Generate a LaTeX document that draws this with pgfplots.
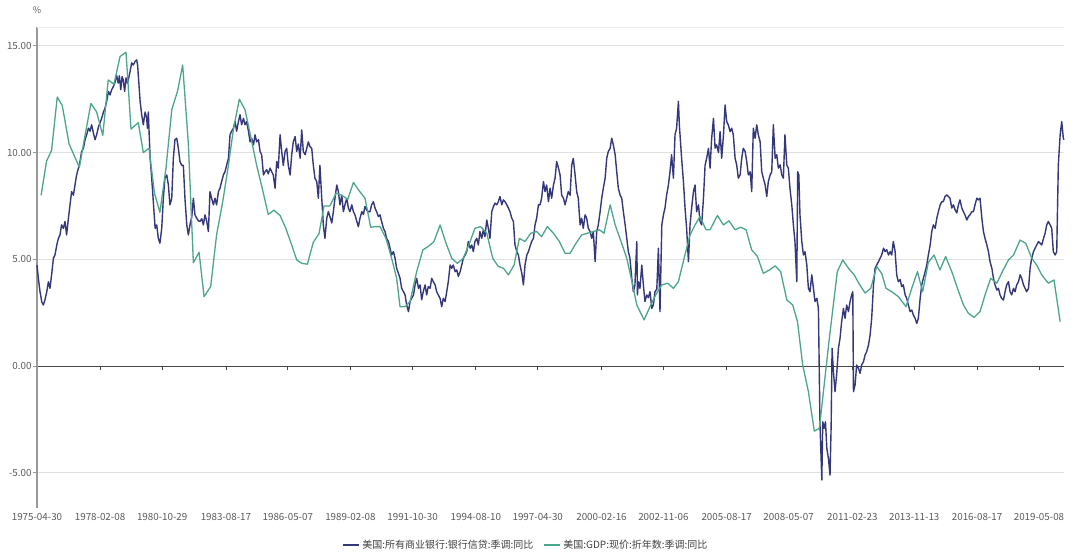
\documentclass[border=0pt]{standalone}
\usepackage{pgfplots}
\pgfplotsset{compat=1.18}
\usepackage{fontspec}
\setmainfont{Noto Sans CJK SC}
\definecolor{navy}{RGB}{52,55,122}
\definecolor{teal2}{RGB}{76,166,140}
\definecolor{lab}{RGB}{90,90,90}
\begin{document}
\begin{tikzpicture}
\path[use as bounding box] (-37bp,-50bp) rectangle (1043bp,508bp);
\begin{axis}[
  scale only axis, width=1027bp, height=481bp,
  xmin=1975.33, xmax=2020.45, ymin=-6.65, ymax=15.88,
  axis x line*=middle, axis y line*=left,
  hide obscured x ticks=false,
  x axis line style={draw=black!72, line width=0.8bp},
  y axis line style={draw=black!40, line width=1.4bp},
  tick align=outside, major tick length=4bp,
  xtick style={draw=black!72, line width=0.7bp},
  ytick style={draw=black!40, line width=0.7bp},
  xtick={1975.33,1978.10,1980.83,1983.63,1986.35,1989.10,1991.83,1994.61,1997.33,2000.13,2002.85,2005.63,2008.35,2011.15,2013.87,2016.63,2019.35},
  xticklabels={1975-04-30,1978-02-08,1980-10-29,1983-08-17,1986-05-07,1989-02-08,1991-10-30,1994-08-10,1997-04-30,2000-02-16,2002-11-06,2005-08-17,2008-05-07,2011-02-23,2013-11-13,2016-08-17,2019-05-08},
  xticklabel style={font=\fontsize{9.8bp}{11bp}\selectfont, text=lab, yshift=-140bp},
  ytick={-5,0,5,10,15},
  yticklabel style={font=\fontsize{9.8bp}{11bp}\selectfont, text=lab, xshift=2bp, /pgf/number format/.cd, fixed, fixed zerofill, precision=2, assume math mode=true},
  extra y ticks={15.88}, extra y tick labels={},
  extra y tick style={major tick length=0pt, grid style={draw=black!8, line width=0.8bp}},
  ymajorgrids, grid style={draw=black!12, line width=0.7bp},
  legend columns=2,
  legend style={at={(0.476,-0.077)}, anchor=center, draw=none, fill=none,
    font=\fontsize{10bp}{11bp}\selectfont, text=black!75,
    /tikz/every even column/.append style={column sep=8bp}},
  legend image code/.code={\draw[#1, line width=2bp] (0bp,0bp) -- (16bp,0bp);},
  clip=false,
]
\addplot[navy, line width=1.4bp, line join=round] coordinates {
(1975.33,4.73)(1975.39,4.1)(1975.46,3.5)(1975.54,3.0)(1975.61,2.86)(1975.68,3.1)(1975.76,3.48)(1975.83,3.95)(1975.90,3.64)(1975.98,4.34)
(1976.05,5.05)(1976.12,5.2)(1976.20,5.67)(1976.27,5.98)(1976.34,6.14)(1976.41,6.61)(1976.49,6.45)(1976.56,6.77)(1976.63,6.14)(1976.71,6.92)
(1976.78,7.55)(1976.85,8.17)(1976.93,8.0)(1977.00,8.48)(1977.07,8.95)(1977.15,9.27)(1977.22,9.58)(1977.29,10.05)(1977.37,10.2)(1977.44,10.6)
(1977.51,10.83)(1977.59,11.14)(1977.66,11.0)(1977.73,11.3)(1977.81,10.9)(1977.88,10.6)(1977.95,10.83)(1978.03,11.2)(1978.10,11.4)(1978.17,11.6)
(1978.25,11.9)(1978.32,12.08)(1978.39,12.4)(1978.47,12.86)(1978.54,12.7)(1978.61,12.94)(1978.69,13.1)(1978.76,13.3)(1978.83,13.6)(1978.90,13.25)
(1978.95,13.6)(1979.01,12.94)(1979.07,13.56)(1979.12,13.4)(1979.18,12.86)(1979.24,13.5)(1979.30,13.25)(1979.36,13.5)(1979.42,13.8)(1979.49,14.2)
(1979.56,14.1)(1979.64,14.27)(1979.71,14.34)(1979.75,14.1)(1979.80,13.33)(1979.86,12.4)(1979.93,11.77)(1980.00,11.3)(1980.08,11.9)(1980.15,11.6)
(1980.18,11.14)(1980.22,11.9)(1980.30,9.73)(1980.37,8.8)(1980.44,7.7)(1980.52,6.45)(1980.59,6.61)(1980.66,5.98)(1980.73,5.75)(1980.81,6.45)
(1980.88,7.86)(1980.95,8.8)(1981.03,8.95)(1981.10,8.5)(1981.17,7.55)(1981.25,7.86)(1981.32,9.73)(1981.39,10.6)(1981.47,10.67)(1981.54,10.2)
(1981.61,9.58)(1981.69,9.4)(1981.76,9.4)(1981.83,7.86)(1981.91,6.61)(1981.98,6.14)(1982.05,6.61)(1982.13,7.0)(1982.20,7.86)(1982.27,7.08)
(1982.35,6.92)(1982.42,6.8)
(1982.49,6.77)(1982.57,6.9)(1982.64,6.61)(1982.71,7.08)(1982.79,6.77)(1982.86,6.3)(1982.93,8.17)(1983.00,7.86)(1983.08,7.55)(1983.15,7.86)
(1983.22,7.55)(1983.30,8.17)(1983.37,8.33)(1983.44,8.64)(1983.52,8.95)(1983.59,9.1)(1983.66,9.4)(1983.74,9.73)(1983.81,10.83)(1983.88,11.0)
(1983.96,11.14)(1984.03,11.45)(1984.10,11.0)(1984.18,11.45)(1984.25,11.77)(1984.32,11.3)(1984.40,11.6)(1984.47,11.3)(1984.54,11.45)(1984.62,11.0)
(1984.69,10.5)(1984.76,10.67)(1984.84,10.36)(1984.91,10.83)(1984.98,10.5)(1985.06,10.6)(1985.13,10.05)(1985.20,9.9)(1985.28,8.95)(1985.35,9.1)
(1985.42,9.2)(1985.49,9.0)(1985.57,9.27)(1985.64,9.1)(1985.71,8.95)(1985.79,8.33)(1985.86,9.58)(1985.93,9.27)(1986.01,10.83)(1986.08,10.05)
(1986.15,9.4)(1986.23,10.05)(1986.30,10.2)(1986.37,9.4)(1986.45,8.95)(1986.52,9.9)(1986.59,10.5)(1986.67,10.75)(1986.74,10.05)(1986.81,10.4)
(1986.89,9.73)(1986.96,11.06)(1987.03,10.05)(1987.11,9.9)(1987.18,10.2)(1987.25,10.5)(1987.32,10.28)(1987.40,10.2)(1987.47,9.4)(1987.54,8.8)
(1987.62,8.64)(1987.69,7.86)(1987.76,9.4)(1987.84,7.86)(1987.91,6.61)(1987.98,5.98)(1988.06,6.92)(1988.13,7.23)(1988.20,7.0)(1988.28,6.7)
(1988.35,7.23)(1988.42,7.86)(1988.50,8.48)(1988.57,8.17)(1988.64,7.55)(1988.72,8.0)(1988.79,7.23)(1988.86,7.55)(1988.94,7.86)(1989.01,7.4)
(1989.08,7.23)(1989.16,7.55)(1989.23,7.23)(1989.30,7.08)(1989.38,6.77)(1989.45,6.53)(1989.52,6.92)(1989.60,7.23)(1989.67,7.1)(1989.74,7.47)
(1989.82,7.3)(1989.89,7.23)
(1989.96,7.23)(1990.03,7.55)(1990.11,7.7)(1990.18,7.4)(1990.25,7.23)(1990.33,7.0)(1990.40,7.08)(1990.47,6.77)(1990.55,6.45)(1990.62,6.3)
(1990.69,5.98)(1990.77,5.83)(1990.84,5.52)(1990.91,5.2)(1990.99,5.36)(1991.06,5.05)(1991.13,4.58)(1991.21,4.34)(1991.28,4.11)(1991.35,3.64)
(1991.43,3.48)(1991.50,3.33)(1991.57,2.86)(1991.65,2.55)(1991.72,3.02)(1991.79,3.17)(1991.87,3.33)(1991.94,3.8)(1992.01,4.11)(1992.09,3.64)
(1992.16,3.8)(1992.23,3.1)(1992.30,3.48)(1992.38,3.8)(1992.45,3.33)(1992.52,3.72)(1992.60,3.64)(1992.67,4.11)(1992.74,3.95)(1992.82,3.8)
(1992.89,3.48)(1992.96,3.33)(1993.04,3.17)(1993.11,2.78)(1993.18,3.17)(1993.26,3.02)(1993.33,3.48)(1993.40,3.95)(1993.48,4.73)(1993.55,4.58)
(1993.62,4.73)(1993.70,4.42)(1993.77,4.5)(1993.84,4.2)(1993.92,4.42)(1993.99,4.73)(1994.06,5.05)(1994.14,5.2)(1994.21,5.36)(1994.28,5.83)
(1994.36,5.52)(1994.43,5.67)(1994.50,5.36)(1994.57,5.83)(1994.65,5.98)(1994.72,5.67)(1994.79,6.3)(1994.87,5.98)(1994.94,6.38)(1995.01,6.06)
(1995.09,6.84)(1995.16,6.45)(1995.23,5.98)(1995.31,7.23)(1995.38,7.47)(1995.45,7.63)(1995.53,7.55)(1995.60,7.7)(1995.67,7.94)(1995.75,7.55)
(1995.82,7.78)(1995.89,7.7)(1995.97,7.55)(1996.04,7.4)(1996.11,7.23)(1996.19,6.92)(1996.26,6.77)(1996.33,5.67)(1996.41,5.36)(1996.48,5.2)
(1996.55,4.73)(1996.63,4.34)(1996.70,3.8)(1996.77,4.73)(1996.85,5.2)(1996.92,5.36)(1996.99,5.6)(1997.06,5.83)(1997.14,5.98)(1997.21,6.61)
(1997.28,6.92)(1997.36,7.55)
(1997.43,7.55)(1997.50,7.86)(1997.58,8.64)(1997.65,8.17)(1997.72,8.48)(1997.80,7.7)(1997.87,8.33)(1997.94,7.86)(1998.02,8.48)(1998.09,8.8)
(1998.16,9.58)(1998.24,9.27)(1998.31,8.95)(1998.38,8.0)(1998.46,7.86)(1998.53,7.55)(1998.60,7.86)(1998.67,8.17)(1998.75,8.0)(1998.82,9.4)
(1998.89,9.73)(1998.97,8.95)(1999.04,8.17)(1999.11,7.86)(1999.19,6.61)(1999.26,6.92)(1999.33,6.45)(1999.41,7.08)(1999.48,6.92)(1999.55,6.45)
(1999.63,6.3)(1999.70,5.98)(1999.77,6.3)(1999.85,4.89)(1999.92,6.3)(1999.99,6.61)(2000.07,7.23)(2000.14,7.86)(2000.21,8.33)(2000.29,8.8)
(2000.36,9.73)(2000.43,10.05)(2000.51,10.2)(2000.58,10.67)(2000.65,10.36)(2000.73,9.9)(2000.80,9.1)(2000.87,8.33)(2000.95,8.0)(2001.02,7.86)
(2001.09,7.23)(2001.17,6.61)(2001.24,5.98)(2001.31,5.36)(2001.38,5.05)(2001.46,4.11)(2001.53,3.48)(2001.60,3.8)(2001.68,5.83)(2001.71,3.33)
(2001.75,3.95)(2001.82,3.64)(2001.90,4.73)(2001.97,3.8)(2002.04,3.02)(2002.12,3.33)(2002.19,3.2)(2002.26,3.48)(2002.34,2.7)(2002.41,2.86)
(2002.48,3.48)(2002.56,3.6)(2002.63,5.52)(2002.70,2.55)(2002.78,6.61)(2002.85,7.08)(2002.92,7.4)(2002.99,8.0)(2003.07,8.48)(2003.14,9.1)
(2003.21,9.9)(2003.29,8.8)(2003.36,10.83)(2003.43,11.14)(2003.51,12.4)(2003.55,11.3)(2003.61,10.36)(2003.65,9.73)(2003.73,8.64)(2003.80,7.4)
(2003.87,6.45)(2003.95,4.89)(2004.02,6.61)(2004.09,7.4)(2004.17,8.17)(2004.24,8.48)(2004.31,7.23)(2004.39,7.55)(2004.46,6.77)(2004.53,6.61)
(2004.61,7.86)(2004.68,9.4)(2004.75,9.73)(2004.83,10.2)
(2004.90,9.27)(2004.97,10.67)(2005.05,11.6)(2005.12,10.2)(2005.19,10.36)(2005.27,10.0)(2005.34,10.98)(2005.41,9.73)(2005.49,10.83)(2005.56,12.23)
(2005.63,11.45)(2005.70,11.3)(2005.78,10.98)(2005.85,11.14)(2005.92,10.83)(2006.00,9.73)(2006.07,9.42)(2006.14,8.8)(2006.22,8.95)(2006.29,9.73)
(2006.36,10.2)(2006.44,10.05)(2006.51,9.58)(2006.58,8.95)(2006.66,9.1)(2006.73,8.17)(2006.80,11.14)(2006.88,10.67)(2006.95,11.3)(2007.02,10.83)
(2007.10,10.5)(2007.17,9.1)(2007.24,8.8)(2007.32,8.48)(2007.39,7.94)(2007.46,8.64)(2007.54,8.95)(2007.61,9.1)(2007.68,11.3)(2007.76,9.73)
(2007.83,9.9)(2007.90,9.27)(2007.98,9.42)(2008.05,8.95)(2008.12,8.8)(2008.19,10.83)(2008.27,9.42)(2008.34,9.27)(2008.41,8.33)(2008.49,7.55)
(2008.56,6.61)(2008.63,5.83)(2008.71,3.95)(2008.75,9.1)(2008.80,8.95)(2008.85,7.08)(2008.93,5.83)(2009.00,5.2)(2009.07,5.36)(2009.15,4.73)
(2009.22,3.64)(2009.29,3.48)(2009.37,4.27)(2009.44,3.64)(2009.51,3.02)(2009.59,3.17)(2009.66,2.7)(2009.73,-2.77)(2009.81,-5.34)(2009.85,-2.61)
(2009.91,-2.92)(2009.97,-2.61)(2010.03,-3.86)(2010.10,-4.33)(2010.17,-5.11)(2010.22,-2.77)(2010.26,0.83)(2010.32,-0.27)(2010.39,-1.2)(2010.46,-0.42)
(2010.54,0.83)(2010.61,1.3)(2010.68,2.08)(2010.76,2.7)(2010.83,2.23)(2010.90,2.86)(2010.98,2.55)(2011.05,3.02)(2011.12,3.33)(2011.17,3.48)
(2011.20,-1.2)(2011.27,-0.89)(2011.34,0.05)(2011.42,-0.11)(2011.49,-0.34)(2011.56,0.05)(2011.64,0.2)(2011.71,0.52)(2011.78,0.67)(2011.86,0.98)
(2011.93,1.45)(2012.00,2.23)(2012.08,3.8)(2012.15,4.58)(2012.22,4.73)(2012.30,4.89)
(2012.37,5.05)(2012.44,5.2)(2012.52,5.52)(2012.59,5.36)(2012.66,5.45)(2012.74,5.2)(2012.81,5.36)(2012.88,5.2)(2012.95,5.83)(2013.03,5.36)
(2013.10,4.27)(2013.17,3.95)(2013.25,4.05)(2013.32,3.72)(2013.39,3.8)(2013.47,3.33)(2013.54,3.17)(2013.61,2.86)(2013.69,2.55)(2013.76,2.62)
(2013.83,2.39)(2013.91,2.23)(2013.98,2.0)(2014.05,2.23)(2014.13,3.17)(2014.20,3.8)(2014.27,4.11)(2014.35,4.42)(2014.42,4.73)(2014.49,5.2)
(2014.57,5.67)(2014.64,6.3)(2014.71,6.61)(2014.79,6.45)(2014.86,6.92)(2014.93,7.23)(2015.01,7.55)(2015.08,7.7)(2015.15,7.7)(2015.22,7.94)
(2015.30,8.02)(2015.37,7.94)(2015.44,7.86)(2015.52,7.4)(2015.59,7.55)(2015.66,7.33)(2015.74,7.17)(2015.81,7.55)(2015.88,7.78)(2015.96,7.4)
(2016.03,7.23)(2016.10,7.08)(2016.18,6.84)(2016.25,7.0)(2016.32,7.08)(2016.40,7.23)(2016.47,7.23)(2016.54,7.55)(2016.62,7.86)(2016.69,7.78)
(2016.76,7.86)(2016.84,6.92)(2016.91,6.3)(2016.98,5.98)(2017.06,5.67)(2017.13,5.36)(2017.20,4.89)(2017.28,4.58)(2017.35,4.11)(2017.42,3.8)
(2017.50,3.56)(2017.57,3.64)(2017.64,3.33)(2017.71,3.17)(2017.79,3.09)(2017.86,3.48)(2017.93,3.8)(2018.01,3.95)(2018.08,3.48)(2018.15,3.33)
(2018.23,3.64)(2018.30,3.48)(2018.37,3.8)(2018.45,3.95)(2018.52,4.27)(2018.59,4.11)(2018.67,3.8)(2018.74,3.64)(2018.81,3.48)(2018.89,3.64)
(2018.96,4.58)(2019.03,5.05)(2019.11,5.36)(2019.18,5.52)(2019.25,5.67)(2019.33,5.83)(2019.40,5.75)(2019.47,5.67)(2019.55,5.98)(2019.62,6.22)
(2019.69,6.61)(2019.76,6.77)(2019.84,6.61)(2019.91,6.45)(2019.98,5.36)(2020.06,5.2)(2020.13,5.36)(2020.20,9.42)(2020.28,10.83)(2020.35,11.45)
(2020.42,10.67)(2020.45,10.6)
};
\addlegendentry{美国:所有商业银行:银行信贷:季调:同比}
\addplot[teal2, line width=1.3bp, line join=round] coordinates {
(1975.51,8.0)(1975.75,9.6)(1975.97,10.1)(1976.22,12.6)(1976.44,12.2)(1976.74,10.4)(1977.07,9.6)(1977.19,9.3)(1977.44,10.8)(1977.70,12.3)
(1977.95,11.9)(1978.22,10.8)(1978.46,13.4)(1978.71,13.2)(1978.98,14.5)(1979.24,14.7)(1979.46,11.1)(1979.78,11.4)(1980.00,10.0)(1980.25,10.2)
(1980.49,8.1)(1980.73,7.2)(1981.00,9.3)(1981.25,12.0)(1981.51,12.9)(1981.73,14.1)(1981.98,10.4)(1982.20,4.84)(1982.45,5.33)(1982.67,3.25)
(1982.96,3.72)(1983.22,6.14)(1983.49,7.7)(1983.74,9.4)(1983.96,11.1)(1984.22,12.5)(1984.47,12.0)(1984.72,10.75)(1984.98,9.4)(1985.23,8.3)
(1985.49,7.1)(1985.74,7.3)(1986.01,7.05)(1986.26,6.45)(1986.52,5.67)(1986.74,4.97)(1986.96,4.81)(1987.21,4.77)(1987.47,5.8)(1987.72,6.2)
(1987.94,7.5)(1988.20,7.5)(1988.47,8.1)(1988.72,8.0)(1988.98,7.8)(1989.23,8.6)(1989.49,8.2)(1989.74,7.86)(1989.99,6.5)
(1990.18,6.53)(1990.40,6.53)(1990.66,5.98)(1990.91,5.05)(1991.13,4.11)(1991.28,2.78)(1991.50,2.78)(1991.72,3.02)(1992.01,4.42)(1992.28,5.44)
(1992.52,5.6)(1992.77,5.83)(1993.04,6.61)(1993.30,5.75)(1993.55,5.05)(1993.80,4.81)(1994.06,5.05)(1994.33,5.75)(1994.57,6.45)(1994.82,6.53)
(1995.09,6.22)(1995.35,5.05)(1995.60,4.66)(1995.82,4.58)(1996.04,4.27)(1996.29,4.73)(1996.52,5.98)(1996.77,5.83)(1997.02,6.22)(1997.28,6.3)
(1997.50,6.06)(1997.75,6.53)(1998.02,6.22)(1998.28,5.83)(1998.53,5.28)(1998.75,5.28)(1999.01,5.75)(1999.26,6.14)(1999.51,6.22)(1999.77,6.3)
(2000.04,6.38)(2000.24,6.22)(2000.51,7.55)(2000.73,6.61)(2000.99,5.83)(2001.24,5.05)(2001.50,3.8)(2001.68,2.86)(2002.00,2.16)(2002.26,2.78)
(2002.51,3.33)(2002.78,3.8)(2003.04,3.88)(2003.29,3.64)(2003.51,3.95)(2003.76,5.05)(2004.02,6.14)(2004.24,6.61)(2004.46,7.0)(2004.72,6.38)
(2004.90,6.38)(2005.22,7.05)(2005.49,6.61)(2005.73,6.8)(2006.00,6.38)(2006.25,6.5)(2006.48,6.38)(2006.73,5.44)(2006.98,5.13)(2007.24,4.34)
(2007.51,4.5)(2007.76,4.69)(2008.00,4.42)(2008.27,3.1)(2008.53,2.86)(2008.74,2.08)(2008.97,0.05)(2009.22,-1.2)(2009.48,-3.05)(2009.70,-2.92)
(2009.88,-1.2)(2010.14,1.3)(2010.49,4.42)(2010.73,4.97)(2010.98,4.58)(2011.23,4.27)(2011.46,3.83)(2011.71,3.42)(2011.96,3.64)(2012.22,4.66)
(2012.44,4.34)(2012.63,3.64)(2012.88,3.48)(2013.17,3.25)(2013.51,2.78)(2013.76,3.64)(2014.01,4.42)(2014.24,3.48)(2014.49,4.86)(2014.74,5.2)
(2015.00,4.5)(2015.25,5.13)(2015.52,4.42)(2015.77,3.64)(2016.03,2.86)(2016.25,2.47)(2016.50,2.28)(2016.76,2.55)(2016.98,3.33)(2017.23,4.11)
(2017.50,3.88)(2017.74,4.42)(2018.01,4.97)(2018.23,5.2)(2018.52,5.9)(2018.77,5.75)(2019.03,5.05)(2019.25,4.73)(2019.47,4.27)(2019.76,3.88)
(2020.01,4.03)(2020.28,2.08)
};
\addlegendentry{美国:GDP:现价:折年数:季调:同比}
\node[font=\fontsize{9bp}{10bp}\selectfont, text=lab] at (rel axis cs:0,1) [yshift=17bp] {\%};
\end{axis}
\end{tikzpicture}
\end{document}
